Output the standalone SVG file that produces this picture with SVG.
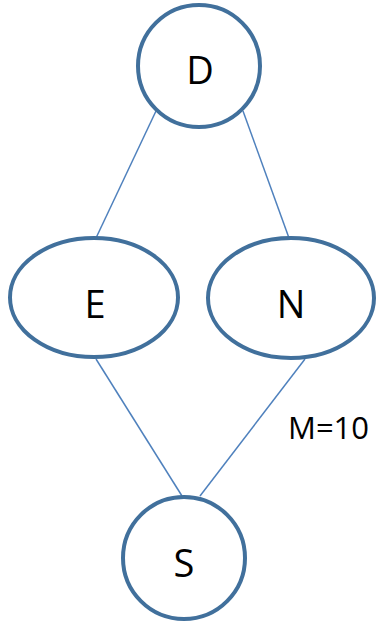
<svg xmlns="http://www.w3.org/2000/svg" width="377" height="622" viewBox="0 0 377 622">
<style>
.node{fill:#ffffff;stroke:#41709C;stroke-width:4}
.edge{stroke:#4F81BD;stroke-width:1.5;fill:none}
.lbl{font-family:"Open Sans","Liberation Sans",sans-serif;font-size:38px;fill:#000;text-anchor:middle}
.elbl{font-family:"Open Sans","Liberation Sans",sans-serif;font-size:31px;fill:#000}
</style>
<rect width="377" height="622" fill="#ffffff"/>
<g id="connectors">
<line class="edge" x1="156" y1="111" x2="96" y2="238"/>
<line class="edge" x1="243" y1="111" x2="289" y2="238"/>
<line class="edge" x1="96" y1="359" x2="182" y2="496"/>
<line class="edge" x1="305" y1="359" x2="200" y2="496"/>
</g>
<g id="node-D">
<circle class="node" cx="199" cy="66" r="61"/>
<text class="lbl" x="200" y="84">D</text>
</g>
<g id="node-E">
<ellipse class="node" cx="94" cy="297.5" rx="84" ry="59.5"/>
<text class="lbl" x="95" y="318">E</text>
</g>
<g id="node-N">
<ellipse class="node" cx="291" cy="298" rx="83" ry="60"/>
<text class="lbl" x="291" y="318">N</text>
</g>
<g id="node-S">
<circle class="node" cx="184" cy="558" r="61"/>
<text class="lbl" x="184" y="577">S</text>
</g>
<text class="elbl" x="288" y="439">M=10</text>
</svg>
